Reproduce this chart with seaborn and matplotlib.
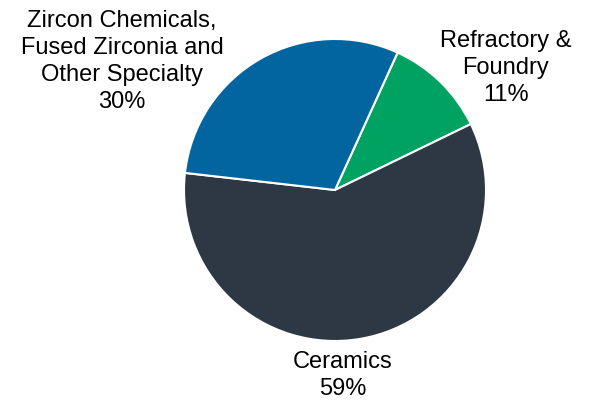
import matplotlib
matplotlib.use("Agg")
import matplotlib.pyplot as plt
import seaborn as sns

categories = ["Refractory &\nFoundry", "Ceramics", "Zircon Chemicals,\nFused Zirconia and\nOther Specialty"]
values = [11, 59, 30]
colors = ["#00A262", "#2D3844", "#02659F"]
label_pos = [(1.13, 0.81), (0.05, -1.23), (-1.41, 0.85)]

sns.set_theme(style="white")
plt.rcParams["font.family"] = ["Liberation Sans", "DejaVu Sans"]

fig = plt.figure(figsize=(6, 4), dpi=100)
ax = fig.add_axes([0, 0, 1, 1])
ax.pie(values, colors=colors, startangle=65.5, counterclock=False,
       radius=1.0, center=(0, 0),
       wedgeprops=dict(edgecolor="white", linewidth=1.5))
for cat, val, (x, y) in zip(categories, values, label_pos):
    ax.text(x, y, f"{cat}\n{val}%", ha="center", va="center",
            fontsize=17, color="black", linespacing=1.3)
ax.set_xlim(-335 / 151, 265 / 151)
ax.set_ylim(-210 / 151, 190 / 151)
ax.set_aspect("auto")
ax.axis("off")
fig.savefig("out.png", dpi=100)
